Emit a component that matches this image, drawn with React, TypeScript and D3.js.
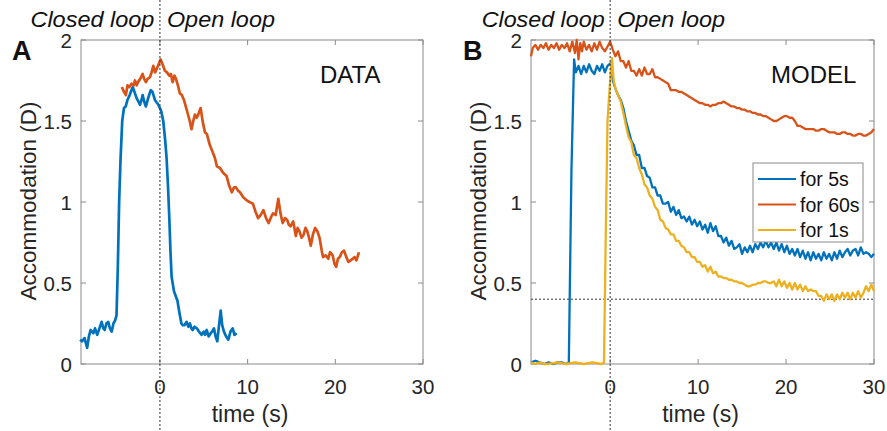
import React from "react";
import * as d3 from "d3";

type Pt = [number, number];

// ---- Panel A (DATA) ----
const dataBlue: Pt[] = [
  [-9.1, 0.15], [-8.9, 0.14], [-8.6, 0.16], [-8.3, 0.1], [-8.1, 0.17], [-7.9, 0.21], [-7.6, 0.19], [-7.4, 0.22],
  [-7.15, 0.18], [-6.9, 0.22], [-6.65, 0.26], [-6.45, 0.22], [-6.3, 0.21], [-6.1, 0.25], [-5.9, 0.26],
  [-5.7, 0.22], [-5.5, 0.2], [-5.3, 0.25], [-5.1, 0.27], [-4.95, 0.3], [-4.8, 0.6], [-4.65, 1.0],
  [-4.5, 1.25], [-4.3, 1.5], [-4.1, 1.58], [-3.9, 1.59], [-3.7, 1.63], [-3.45, 1.66], [-3.1, 1.71],
  [-2.9, 1.68], [-2.65, 1.64], [-2.45, 1.62], [-2.28, 1.6], [-2.1, 1.63], [-1.97, 1.66], [-1.8, 1.62],
  [-1.6, 1.59], [-1.35, 1.64], [-1.05, 1.69], [-0.85, 1.68], [-0.57, 1.63], [-0.3, 1.61], [-0.08, 1.59],
  [0.15, 1.56], [0.38, 1.5], [0.6, 1.38], [0.76, 1.27], [0.92, 1.1], [1.07, 0.9], [1.2, 0.7],
  [1.33, 0.54], [1.6, 0.45], [1.8, 0.42], [2.0, 0.39], [2.15, 0.34], [2.28, 0.3], [2.45, 0.25],
  [2.6, 0.24], [2.8, 0.24], [3.05, 0.26], [3.25, 0.23], [3.42, 0.25], [3.6, 0.22], [3.73, 0.21],
  [3.95, 0.23], [4.2, 0.22], [4.45, 0.2], [4.6, 0.19], [4.76, 0.18], [5.0, 0.2], [5.15, 0.18],
  [5.33, 0.21], [5.55, 0.17], [5.79, 0.19], [5.95, 0.2], [6.16, 0.22], [6.35, 0.17], [6.54, 0.14],
  [6.7, 0.22], [6.93, 0.33], [7.1, 0.24], [7.3, 0.2], [7.55, 0.17], [7.8, 0.15], [8.05, 0.2],
  [8.3, 0.22], [8.5, 0.18], [8.75, 0.19],
];

const dataOrange: Pt[] = [
  [-4.34, 1.71], [-4.1, 1.68], [-3.88, 1.66], [-3.7, 1.72], [-3.5, 1.71], [-3.24, 1.73], [-3.0, 1.72],
  [-2.85, 1.75], [-2.65, 1.72], [-2.5, 1.74], [-2.25, 1.76], [-1.98, 1.79], [-1.8, 1.76], [-1.6, 1.74],
  [-1.4, 1.76], [-1.14, 1.77], [-0.95, 1.8], [-0.76, 1.84], [-0.55, 1.8], [-0.38, 1.82], [-0.15, 1.85],
  [0.08, 1.88], [0.3, 1.85], [0.57, 1.81], [0.8, 1.8], [1.07, 1.78], [1.25, 1.79], [1.45, 1.74],
  [1.65, 1.78], [1.83, 1.76], [2.05, 1.72], [2.28, 1.67], [2.5, 1.66], [2.74, 1.63], [3.0, 1.58],
  [3.2, 1.54], [3.4, 1.5], [3.6, 1.45], [3.8, 1.5], [3.99, 1.54], [4.2, 1.52], [4.37, 1.54],
  [4.64, 1.58], [4.9, 1.49], [5.14, 1.43], [5.35, 1.42], [5.7, 1.35], [6.0, 1.31], [6.28, 1.27],
  [6.5, 1.22], [6.85, 1.21], [7.2, 1.18], [7.6, 1.16], [7.9, 1.1], [8.2, 1.06], [8.45, 1.09],
  [8.68, 1.09], [8.9, 1.07], [9.13, 1.06], [9.5, 1.03], [9.9, 1.01], [10.2, 1.0], [10.6, 0.99],
  [10.9, 0.94], [11.2, 0.9], [11.5, 0.92], [11.8, 0.95], [12.1, 0.9], [12.4, 0.87], [12.7, 0.91],
  [12.9, 0.93], [13.2, 0.92], [13.5, 1.02], [13.75, 0.93], [14.0, 0.87], [14.25, 0.9], [14.5, 0.89],
  [14.7, 0.86], [14.9, 0.85], [15.2, 0.88], [15.5, 0.79], [15.7, 0.84], [15.9, 0.82], [16.15, 0.78],
  [16.4, 0.8], [16.6, 0.84], [16.8, 0.82], [17.0, 0.78], [17.2, 0.73], [17.45, 0.8], [17.7, 0.84],
  [17.95, 0.82], [18.2, 0.78], [18.45, 0.7], [18.6, 0.66], [18.9, 0.67], [19.2, 0.65], [19.4, 0.69],
  [19.7, 0.67], [19.9, 0.62], [20.1, 0.6], [20.3, 0.65], [20.5, 0.66], [20.75, 0.69], [21.0, 0.7],
  [21.25, 0.66], [21.5, 0.63], [21.75, 0.64], [22.0, 0.65], [22.2, 0.66], [22.4, 0.64], [22.7, 0.69],
];

// ---- Panel B (MODEL) ----
const modelFor5s: Pt[] = [
  [-9, 0.01], [-8.5, 0.02], [-8, 0.01], [-7.5, 0.0], [-7, 0.01], [-6.5, 0.0], [-6, 0.01], [-5.5, 0.01],
  [-5, 0.0], [-4.7, 0.01], [-4.4, 1.2], [-4.1, 1.88], [-3.9, 1.8], [-3.6, 1.84], [-3.3, 1.79], [-3, 1.84],
  [-2.7, 1.8], [-2.4, 1.85], [-2.1, 1.81], [-1.8, 1.79], [-1.5, 1.84], [-1.2, 1.81], [-0.9, 1.85],
  [-0.6, 1.8], [-0.3, 1.84], [-0.1, 1.85], [0.1, 1.86], [0.3, 1.75], [0.6, 1.7], [0.9, 1.66],
  [1.2, 1.63], [1.5, 1.58], [1.8, 1.5], [2.1, 1.44], [2.4, 1.38], [2.7, 1.35], [3.0, 1.29], [3.3, 1.29],
  [3.6, 1.21], [3.9, 1.21], [4.2, 1.16], [4.5, 1.15], [4.8, 1.09], [5.1, 1.09], [5.4, 1.04], [5.7, 1.04],
  [6.0, 0.99], [6.3, 0.99], [6.6, 1.0], [6.9, 0.94], [7.2, 0.97], [7.5, 0.92], [7.8, 0.95], [8.1, 0.9],
  [8.4, 0.91], [8.7, 0.88], [9.0, 0.91], [9.3, 0.86], [9.6, 0.89], [9.9, 0.85], [10.2, 0.88], [10.5, 0.83],
  [10.8, 0.86], [11.1, 0.81], [11.4, 0.87], [11.7, 0.82], [12.0, 0.85], [12.3, 0.79], [12.6, 0.79],
  [12.9, 0.75], [13.2, 0.78], [13.5, 0.73], [13.8, 0.76], [14.1, 0.71], [14.4, 0.72], [14.7, 0.74],
  [15.0, 0.68], [15.3, 0.72], [15.6, 0.69], [15.9, 0.73], [16.2, 0.69], [16.5, 0.74], [16.8, 0.71],
  [17.1, 0.75], [17.4, 0.72], [17.7, 0.76], [18.0, 0.72], [18.3, 0.75], [18.6, 0.71], [18.9, 0.75],
  [19.2, 0.7], [19.5, 0.74], [19.8, 0.69], [20.1, 0.73], [20.4, 0.68], [20.7, 0.71], [21.0, 0.67],
  [21.3, 0.71], [21.6, 0.66], [21.9, 0.7], [22.2, 0.65], [22.5, 0.69], [22.8, 0.64], [23.1, 0.69],
  [23.4, 0.65], [23.7, 0.68], [24.0, 0.64], [24.3, 0.69], [24.6, 0.65], [24.9, 0.68], [25.2, 0.64],
  [25.5, 0.69], [25.8, 0.65], [26.1, 0.7], [26.4, 0.66], [26.7, 0.69], [27.0, 0.71], [27.3, 0.67],
  [27.6, 0.7], [27.9, 0.71], [28.2, 0.67], [28.5, 0.72], [28.8, 0.68], [29.1, 0.69], [29.4, 0.68],
  [29.7, 0.66], [30, 0.68],
];

const modelFor60s: Pt[] = [
  [-9, 1.9], [-8.8, 1.95], [-8.5, 1.97], [-8.2, 1.94], [-7.9, 1.97], [-7.6, 1.95], [-7.3, 1.98],
  [-7.0, 1.94], [-6.7, 1.97], [-6.4, 1.95], [-6.1, 1.98], [-5.8, 1.94], [-5.5, 1.97], [-5.2, 1.95],
  [-4.9, 1.98], [-4.6, 1.93], [-4.3, 1.99], [-4.0, 1.92], [-3.8, 2.0], [-3.6, 1.88], [-3.4, 1.98],
  [-3.2, 1.93], [-3.0, 1.99], [-2.7, 1.94], [-2.4, 1.97], [-2.1, 1.93], [-1.8, 1.98], [-1.5, 1.94],
  [-1.2, 1.99], [-0.9, 1.95], [-0.6, 1.93], [-0.3, 1.96], [0, 1.99], [0.3, 1.94], [0.6, 1.9],
  [0.9, 1.93], [1.2, 1.87], [1.5, 1.87], [1.8, 1.83], [2.1, 1.87], [2.4, 1.81], [2.7, 1.81], [3.0, 1.78],
  [3.3, 1.82], [3.6, 1.78], [3.9, 1.83], [4.2, 1.79], [4.5, 1.79], [4.8, 1.82], [5.1, 1.77], [5.4, 1.77],
  [5.7, 1.76], [6.0, 1.75], [6.3, 1.74], [6.6, 1.73], [6.9, 1.69], [7.2, 1.69], [7.5, 1.69], [7.8, 1.68],
  [8.1, 1.68], [8.4, 1.67], [8.7, 1.66], [9.0, 1.65], [9.3, 1.64], [9.6, 1.63], [9.9, 1.62], [10.2, 1.61],
  [10.5, 1.61], [10.8, 1.6], [11.1, 1.6], [11.4, 1.59], [11.7, 1.6], [12.0, 1.6], [12.3, 1.61],
  [12.6, 1.61], [12.9, 1.62], [13.2, 1.61], [13.5, 1.6], [13.8, 1.59], [14.1, 1.59], [14.4, 1.58],
  [14.7, 1.58], [15.0, 1.57], [15.3, 1.57], [15.6, 1.56], [15.9, 1.56], [16.2, 1.55], [16.5, 1.55],
  [16.8, 1.54], [17.1, 1.54], [17.4, 1.53], [17.7, 1.53], [18.0, 1.52], [18.3, 1.51], [18.6, 1.5],
  [18.9, 1.5], [19.2, 1.51], [19.5, 1.52], [19.8, 1.53], [20.1, 1.53], [20.4, 1.52], [20.7, 1.52],
  [21.0, 1.5], [21.3, 1.47], [21.6, 1.47], [21.9, 1.46], [22.2, 1.45], [22.5, 1.45], [22.8, 1.45],
  [23.1, 1.45], [23.4, 1.44], [23.7, 1.44], [24.0, 1.45], [24.3, 1.45], [24.6, 1.44], [24.9, 1.43],
  [25.2, 1.43], [25.5, 1.43], [25.8, 1.42], [26.1, 1.42], [26.4, 1.43], [26.7, 1.43], [27.0, 1.42],
  [27.3, 1.42], [27.6, 1.41], [27.9, 1.41], [28.2, 1.42], [28.5, 1.42], [28.8, 1.41], [29.1, 1.41],
  [29.4, 1.42], [29.7, 1.43], [30, 1.45],
];

const modelFor1s: Pt[] = [
  [-9, 0.01], [-8.5, 0.0], [-8, 0.01], [-7.5, 0.0], [-7, 0.0], [-6, 0.01], [-5, 0.0], [-4, 0.01],
  [-3, 0.0], [-2, 0.01], [-1, 0.0], [-0.7, 0.01], [-0.5, 0.8], [-0.3, 1.5], [0.0, 1.75], [0.2, 1.89],
  [0.4, 1.75], [0.6, 1.7], [0.9, 1.66], [1.2, 1.62], [1.5, 1.55], [1.8, 1.47], [2.1, 1.4], [2.4, 1.37],
  [2.7, 1.29], [3.0, 1.27], [3.3, 1.21], [3.6, 1.17], [3.9, 1.11], [4.2, 1.09], [4.5, 1.04], [4.8, 1.02],
  [5.1, 0.97], [5.4, 0.95], [5.7, 0.89], [6.0, 0.88], [6.3, 0.84], [6.6, 0.83], [6.9, 0.8], [7.2, 0.8],
  [7.5, 0.76], [7.8, 0.76], [8.1, 0.73], [8.4, 0.72], [8.7, 0.69], [9.0, 0.69], [9.3, 0.66], [9.6, 0.66],
  [9.9, 0.63], [10.2, 0.63], [10.5, 0.6], [10.8, 0.61], [11.1, 0.57], [11.4, 0.6], [11.7, 0.56],
  [12.0, 0.57], [12.3, 0.54], [12.6, 0.54], [12.9, 0.53], [13.2, 0.53], [13.5, 0.52], [13.8, 0.52],
  [14.1, 0.51], [14.4, 0.51], [14.7, 0.5], [15.0, 0.5], [15.3, 0.49], [15.6, 0.48], [15.9, 0.48],
  [16.2, 0.49], [16.5, 0.49], [16.8, 0.5], [17.1, 0.5], [17.4, 0.51], [17.7, 0.51], [18.0, 0.5],
  [18.3, 0.5], [18.6, 0.51], [18.9, 0.48], [19.2, 0.52], [19.5, 0.48], [19.8, 0.51], [20.1, 0.47],
  [20.4, 0.5], [20.7, 0.46], [21.0, 0.5], [21.3, 0.46], [21.6, 0.49], [21.9, 0.45], [22.2, 0.48],
  [22.5, 0.45], [22.8, 0.46], [23.1, 0.45], [23.4, 0.45], [23.7, 0.42], [24.0, 0.42], [24.3, 0.39],
  [24.6, 0.43], [24.9, 0.4], [25.2, 0.43], [25.5, 0.39], [25.8, 0.43], [26.1, 0.4], [26.4, 0.44],
  [26.7, 0.41], [27.0, 0.44], [27.3, 0.4], [27.6, 0.44], [27.9, 0.41], [28.2, 0.45], [28.5, 0.41],
  [28.8, 0.44], [29.1, 0.48], [29.4, 0.45], [29.7, 0.49], [30, 0.45],
];

const xTicks = [0, 10, 20, 30];
const yTicks = [0, 0.5, 1, 1.5, 2];
const yTickLabels = ["0", "0.5", "1", "1.5", "2"];
const legendLabels = ["for 5s", "for 60s", "for 1s"];
const thresholdB = 0.4;

const BLUE = "#0072BD";
const ORANGE = "#D95319";
const YELLOW = "#EDB120";
const FONT = "'Liberation Sans', Arial, Helvetica, sans-serif";
const TXT = "#262626";
const AX = "#8a8a8a";

type Series = { data: Pt[]; color: string };

function Panel(props: {
  left: number; right: number; letter: string; letterX: number; tag: string; tagX: number;
  series: Series[]; lw: number; threshold?: number; legend?: boolean; closedW: number; openW: number;
}) {
  const { left, right, letter, letterX, tag, tagX, series, lw, threshold, legend, closedW, openW } = props;
  const top = 40, bottom = 364;
  const x = d3.scaleLinear().domain([-9, 30]).range([left, right]);
  const y = d3.scaleLinear().domain([0, 2]).range([bottom, top]);
  const line = d3.line<Pt>().x((d) => x(d[0])).y((d) => y(d[1]));
  const tl = 5;
  const x0 = x(0);
  return (
    <g fontFamily={FONT}>
      <text x={x0 - 5.5 - closedW} y={27} fontSize={22.5} fontStyle="italic" fill="#111"
        textLength={closedW} lengthAdjust="spacingAndGlyphs">Closed loop</text>
      <text x={x0 + 7} y={27} fontSize={22.5} fontStyle="italic" fill="#111"
        textLength={openW} lengthAdjust="spacingAndGlyphs">Open loop</text>
      <text x={letterX} y={59.5} fontSize={27} fontWeight="bold" fill="#111">{letter}</text>
      <rect x={left} y={top} width={right - left} height={bottom - top} fill="white" stroke={AX} strokeWidth={1} />
      {xTicks.map((t) => (
        <g key={"xt" + t}>
          <line x1={x(t)} x2={x(t)} y1={bottom} y2={bottom - tl} stroke={AX} />
          <line x1={x(t)} x2={x(t)} y1={top} y2={top + tl} stroke={AX} />
          <text x={x(t)} y={393.5} fontSize={20.5} textAnchor="middle" fill={TXT}>{t}</text>
        </g>
      ))}
      {yTicks.map((t, i) => (
        <g key={"yt" + t}>
          <line x1={left} x2={left + tl} y1={y(t)} y2={y(t)} stroke={AX} />
          <line x1={right} x2={right - tl} y1={y(t)} y2={y(t)} stroke={AX} />
          <text x={left - 9} y={y(t) + 8} fontSize={20.5} textAnchor="end" fill={TXT}>{yTickLabels[i]}</text>
        </g>
      ))}
      {threshold !== undefined && (
        <line x1={left} x2={right} y1={y(threshold)} y2={y(threshold)} stroke="#333" strokeWidth={1} strokeDasharray="2,2" />
      )}
      {series.map((s, i) => (
        <path key={i} d={line(s.data) || ""} fill="none" stroke={s.color} strokeWidth={lw} strokeLinejoin="round" />
      ))}
      <line x1={x0} x2={x0} y1={0} y2={431} stroke="#333" strokeWidth={1} strokeDasharray="2,2" />
      <text x={tagX} y={83} fontSize={24} fill="#111">{tag}</text>
      <text x={(left + right) / 2 - 2} y={421.5} fontSize={23} textAnchor="middle" fill={TXT}>time (s)</text>
      <text transform={`translate(${left - 45},${(top + bottom) / 2 - 1}) rotate(-90)`} fontSize={22.5} textAnchor="middle" fill={TXT}>Accommodation (D)</text>
      {legend && (
        <g>
          <rect x={753} y={163} width={110} height={79} fill="white" stroke={AX} strokeWidth={1} />
          {legendLabels.map((l, i) => (
            <g key={l}>
              <line x1={758} x2={796} y1={179 + i * 25.5} y2={179 + i * 25.5} stroke={series[i].color} strokeWidth={2.2} />
              <text x={800} y={179 + i * 25.5 + 7} fontSize={19.5} fill="#111">{l}</text>
            </g>
          ))}
        </g>
      )}
    </g>
  );
}

export default function App() {
  return (
    <svg width={887} height={431} style={{ display: "block", position: "absolute", left: 0, top: 0 }}>
      <rect width={887} height={431} fill="white" />
      <Panel left={81} right={423} letter="A" letterX={12} tag="DATA" tagX={320}
        closedW={124} openW={108}
        series={[{ data: dataBlue, color: BLUE }, { data: dataOrange, color: ORANGE }]} lw={2.7} />
      <Panel left={531} right={874} letter="B" letterX={463} tag="MODEL" tagX={771}
        closedW={123} openW={108}
        series={[{ data: modelFor5s, color: BLUE }, { data: modelFor60s, color: ORANGE }, { data: modelFor1s, color: YELLOW }]}
        lw={2.3} threshold={thresholdB} legend />
    </svg>
  );
}
